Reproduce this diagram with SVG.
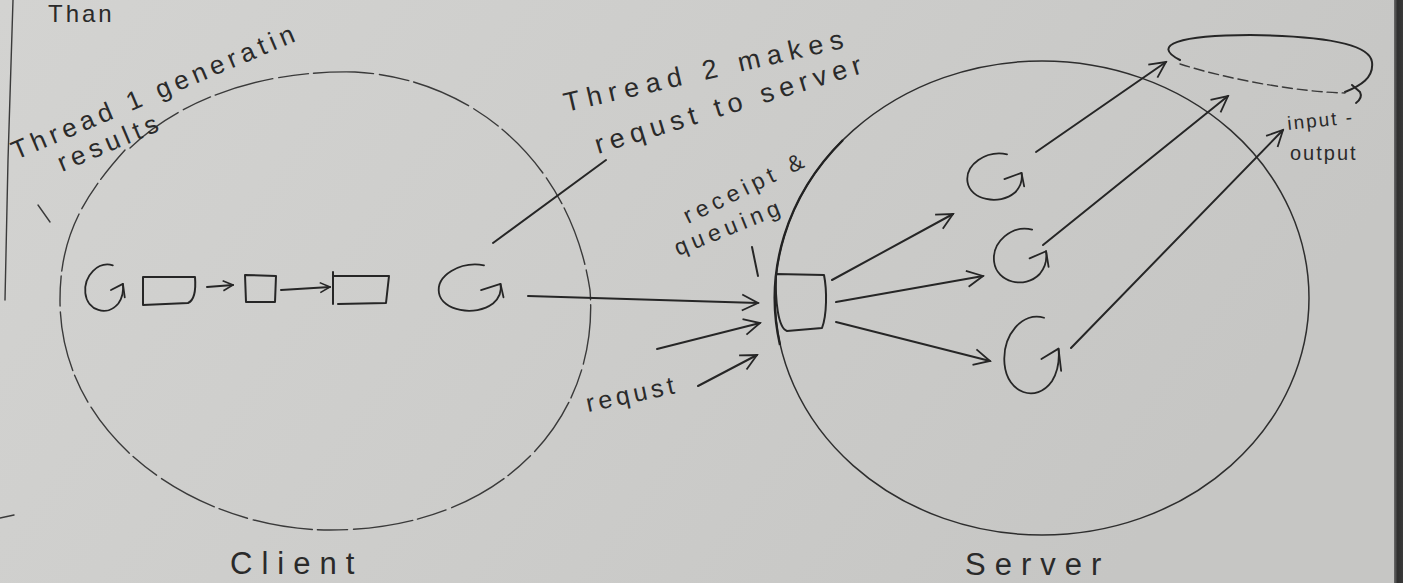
<svg xmlns="http://www.w3.org/2000/svg" width="1403" height="583" viewBox="0 0 1403 583">
<defs>
<linearGradient id="paper" x1="0" y1="0" x2="1" y2="0.3">
<stop offset="0" stop-color="#d3d3d1"/>
<stop offset="0.5" stop-color="#cdcdcb"/>
<stop offset="1" stop-color="#c6c6c4"/>
</linearGradient>
<linearGradient id="edge" x1="0" y1="0" x2="1" y2="0">
<stop offset="0" stop-color="#6a6a6a"/>
<stop offset="0.4" stop-color="#2e2e2e"/>
<stop offset="1" stop-color="#3a3a3a"/>
</linearGradient>
<marker id="ah" viewBox="0 0 12 12" refX="11" refY="6" markerWidth="12" markerHeight="12" markerUnits="userSpaceOnUse" orient="auto">
<path d="M1,1 L11,6 L1,11" fill="none" stroke="#262626" stroke-width="1.6"/>
</marker>
<marker id="ahb" viewBox="0 0 20 20" refX="18" refY="10" markerWidth="20" markerHeight="20" markerUnits="userSpaceOnUse" orient="auto">
<path d="M2,2 L18,10 L2,18" fill="none" stroke="#262626" stroke-width="1.8"/>
</marker>
<symbol id="curl" viewBox="-30 -30 60 60" overflow="visible" preserveAspectRatio="none">
<path d="M8,-22 C-8,-26 -24,-12 -22,5 C-20,22 2,28 14,15 C18,10 20,4 19,-4" fill="none" stroke="#262626" stroke-width="1.8" stroke-linecap="round" vector-effect="non-scaling-stroke"/>
<path d="M6,2 L19,-4 L21,9" fill="none" stroke="#262626" stroke-width="1.8" stroke-linecap="round" stroke-linejoin="round" vector-effect="non-scaling-stroke"/>
</symbol>
</defs>
<style>
.ink{fill:none;stroke:#262626;stroke-width:2;stroke-linecap:round;stroke-linejoin:round}
.faint{fill:none;stroke:#3a3a3a;stroke-width:1.4;stroke-linecap:round}
.hand{font-family:"Liberation Sans","DejaVu Sans",sans-serif;fill:#2a2a2a}
</style>
<rect width="1403" height="583" fill="url(#paper)"/>
<rect x="1394" y="0" width="9" height="583" fill="url(#edge)"/>
<path class="faint" d="M13,0 L8,160 L5,300"/>
<path class="faint" d="M0,518 L14,515"/>
<path class="faint" d="M38,205 L50,222"/>
<text class="hand" x="48" y="22" font-size="24" letter-spacing="3">Than</text>

<g id="client">
<path class="faint" stroke-dasharray="60 6 30 5" d="M130,148 C180,100 260,70 355,72 C470,78 570,160 590,290 C600,420 500,530 330,530 C200,530 60,440 60,300 C60,240 80,200 125,150"/>
<text class="hand" x="230" y="574" font-size="31" letter-spacing="9">Client</text>
</g>

<g id="server">
<ellipse cx="1042" cy="298" rx="267" ry="237" fill="none" stroke="#2e2e2e" stroke-width="1.5"/>
<path d="M780,345 A267 237 0 0 1 843,140" fill="none" stroke="#222" stroke-width="2.4"/>
<text class="hand" x="965" y="575" font-size="31" letter-spacing="9">Server</text>
</g>

<g id="thread1-label">
<text class="hand" font-size="26" transform="translate(16,160) rotate(-23)" letter-spacing="5">Thread 1 generatin</text>
<text class="hand" font-size="26" transform="translate(62,172) rotate(-23)" letter-spacing="5">results</text>
</g>

<g id="client-loop">
<use href="#curl" x="78" y="257" width="55" height="62"/>
<path class="ink" d="M143,277 L143,305 L188,303 C195,300 196,290 195,277 Z"/>
<path class="ink" d="M245,275 L246,302 L275,302 L276,276 Z"/>
<path class="ink" d="M333,272 L333,304 M338,304 L386,303 L389,276 L334,276"/>
</g>

<g id="thread2">
<use href="#curl" x="427" y="257" width="90" height="62"/>
</g>

<g id="thread2-label">
<text class="hand" font-size="27" transform="translate(566,112) rotate(-13)" letter-spacing="7">Thread 2 makes</text>
<text class="hand" font-size="27" transform="translate(598,154) rotate(-17)" letter-spacing="6">requst to server</text>
</g>

<g id="queue">
<path class="ink" d="M776,274 L824,275 C827,290 827,315 822,328 L787,331 C778,328 775,300 776,274 Z" stroke-width="2.4"/>
<text class="hand" font-size="23" transform="translate(688,224) rotate(-26)" letter-spacing="5">receipt &amp;</text>
<text class="hand" font-size="23" transform="translate(678,256) rotate(-22)" letter-spacing="5">queuing</text>
</g>

<g id="req-label">
<text class="hand" font-size="25" transform="translate(588,412) rotate(-12)" letter-spacing="4">requst</text>
</g>

<g id="g1"><use href="#curl" x="957" y="146" width="79" height="62"/></g>
<g id="g2"><use href="#curl" x="984" y="220" width="76" height="72"/></g>
<g id="g3"><use href="#curl" x="994" y="304" width="79" height="103"/></g>

<g id="io">
<path class="ink" d="M1180,60 C1150,45 1180,35 1250,35 C1330,36 1370,45 1372,62 C1374,78 1360,86 1345,92"/>
<path class="faint" stroke-dasharray="10 5" d="M1180,64 C1230,80 1300,92 1345,93"/>
<path class="ink" d="M1352,85 L1360,92 C1362,96 1360,100 1356,103"/>
<text class="hand" font-size="19" x="1288" y="130" transform="rotate(-6 1288 130)" letter-spacing="2">input -</text>
<text class="hand" font-size="20" x="1290" y="160" letter-spacing="2">output</text>
</g>

<g id="connectors">
<path class="ink" d="M207,287 L233,285" marker-end="url(#ah)"/>
<path class="ink" d="M281,290 L330,287" marker-end="url(#ah)"/>
<path class="ink" d="M493,243 L606,160"/>
<path class="ink" d="M528,296 L758,303" marker-end="url(#ahb)"/>
<path class="ink" d="M657,349 L760,323" marker-end="url(#ahb)"/>
<path class="ink" d="M698,386 L757,355" marker-end="url(#ahb)"/>
<path class="ink" d="M752,247 L758,276" stroke-width="1.5"/>
<path class="ink" d="M832,280 L953,214" marker-end="url(#ahb)"/>
<path class="ink" d="M836,302 L983,276" marker-end="url(#ahb)"/>
<path class="ink" d="M836,322 L990,361" marker-end="url(#ahb)"/>
<path class="ink" d="M1036,152 L1166,62" marker-end="url(#ahb)"/>
<path class="ink" d="M1043,245 L1228,96" marker-end="url(#ahb)"/>
<path class="ink" d="M1071,348 L1283,130" marker-end="url(#ahb)"/>
</g>
</svg>
